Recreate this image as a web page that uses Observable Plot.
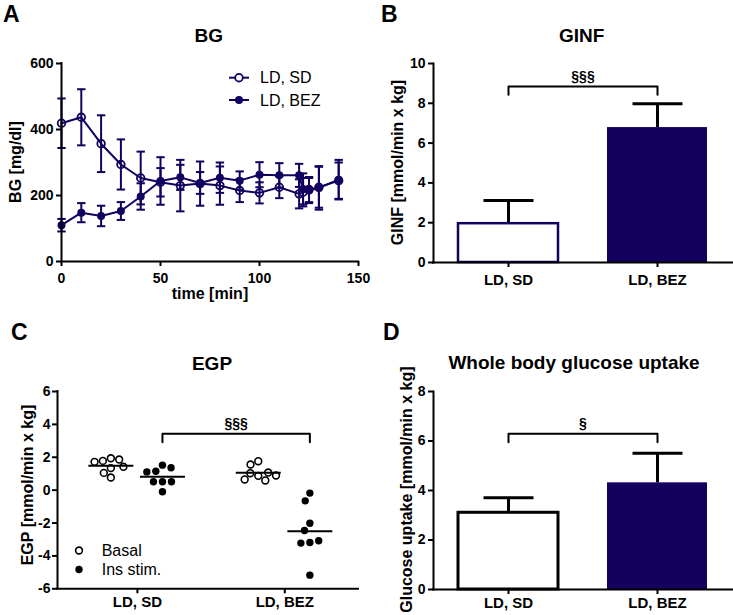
<!DOCTYPE html>
<html><head><meta charset="utf-8">
<script src="https://cdn.jsdelivr.net/npm/d3@7"></script>
<script src="https://cdn.jsdelivr.net/npm/@observablehq/plot@0.6"></script>
<style>
body{margin:0;background:#fff;}
#wrap{position:relative;width:733px;height:615px;overflow:hidden;font-family:"Liberation Sans",Arial,sans-serif;}
.panel{position:absolute;}
#overlay{position:absolute;left:0;top:0;pointer-events:none;}
</style></head><body><div id="wrap"></div>
<script>
// ---------- data ----------
const groups = ["LD, SD", "LD, BEZ"];

// Panel A: blood glucose time course (mean ± error)
const bgTime   = [0,10,20,30,40,50,60,70,80,90,100,110,120,122,125,130,140];
const bgSD     = [419,437,357,294,253,240,230,236,230,215,208,225,205,210,218,225,245];
const bgSDerr  = [75,85,86,76,80,43,78,67,58,35,32,33,44,43,38,62,55];
const bgBEZ    = [110,148,138,153,197,244,255,238,254,245,263,261,261,220,215,223,248];
const bgBEZerr = [19,29,31,27,40,72,38,33,46,28,38,37,35,47,38,66,60];
const bgXTicks = [0,50,100,150];
const bgYTicks = [0,200,400,600];

// Panel B: GINF
const ginfMean = [1.95, 6.78];
const ginfErr  = [1.17, 1.20];
const ginfTicks = [0,2,4,6,8,10];
const sigB = {level: 8.85, drop: 8.43, label: "§§§"};

// Panel C: EGP individual values
const conditions = ["Basal", "Ins stim."];
const egpSDBasal  = [1.94,1.34,1.78,0.77,1.86,1.05,1.72,1.42];
const egpSDIns    = [1.52,0.51,1.15,-0.10,1.36,0.51,1.11,0.51];
const egpBEZBasal = [1.76,0.87,1.03,0.59,0.65,1.07,1.56,0.89];
const egpBEZIns   = [-0.18,-0.65,-2.01,-2.45,-3.18,-3.22,-3.08,-5.17];
const egpTicks = [-6,-4,-2,0,2,4,6];
const sigC = {level: 3.43, drop: 2.92, label: "§§§"};

// Panel D: whole body glucose uptake
const uptakeMean = [3.10, 4.31];
const uptakeErr  = [0.61, 1.20];
const uptakeTicks = [0,2,4,6,8];
const sigD = {level: 6.29, drop: 5.95, label: "§"};

// ---------- styles ----------
const navy = "#13005f";
const FONT = "'Liberation Sans', Arial, sans-serif";
const hline = {draw(ctx, size) { const r = Math.sqrt(size / Math.PI); ctx.moveTo(-r, 0); ctx.lineTo(r, 0); }};
const baseStyle = {fontFamily: FONT, fontSize: "14px", fontWeight: "bold", color: "#000", background: "transparent", overflow: "visible"};
const wrap = document.getElementById("wrap");
function place(el, left, top) {
  const d = document.createElement("div");
  d.className = "panel"; d.style.left = left + "px"; d.style.top = top + "px";
  d.appendChild(el); wrap.appendChild(d);
}

// ---------- Panel A ----------
const bgRows = [];
bgTime.forEach((t, i) => {
  bgRows.push({group: groups[0], time: t, value: bgSD[i], lo: bgSD[i] - bgSDerr[i], hi: bgSD[i] + bgSDerr[i]});
  bgRows.push({group: groups[1], time: t, value: bgBEZ[i], lo: bgBEZ[i] - bgBEZerr[i], hi: bgBEZ[i] + bgBEZerr[i]});
});
const plotA = Plot.plot({
  width: 366, height: 310, marginLeft: 61, marginRight: 8, marginTop: 63, marginBottom: 49,
  style: baseStyle,
  x: {domain: [0,150], label: null},
  y: {domain: [0,600], label: null},
  marks: [
    Plot.axisX({ticks: bgXTicks, tickSize: 5, tickPadding: 7, strokeWidth: 2, label: null}),
    Plot.axisY({ticks: bgYTicks, tickSize: 5, tickPadding: 3, strokeWidth: 2, label: null}),
    Plot.ruleX(bgRows, {x: "time", y1: "lo", y2: "hi", stroke: navy, strokeWidth: 2}),
    Plot.dot(bgRows, {x: "time", y: "lo", symbol: hline, r: 4.2, stroke: navy, strokeWidth: 2, fill: "none"}),
    Plot.dot(bgRows, {x: "time", y: "hi", symbol: hline, r: 4.2, stroke: navy, strokeWidth: 2, fill: "none"}),
    Plot.line(bgRows, {x: "time", y: "value", z: "group", stroke: navy, strokeWidth: 2}),
    Plot.dot(bgRows, {filter: d => d.group === groups[0], x: "time", y: "value", r: 3.8, stroke: navy, strokeWidth: 1.8, fill: "none"}),
    Plot.dot(bgRows, {filter: d => d.group === groups[1], x: "time", y: "value", r: 4, fill: navy}),
    Plot.ruleY([0], {strokeWidth: 2, strokeLinecap: "square"}),
    Plot.ruleX([0], {strokeWidth: 2, strokeLinecap: "square"})
  ]
});
place(plotA, 0, 0);

// ---------- bar panels (B, D) ----------
function bracket(sig) {
  return [
    {x: groups[0], y: sig.drop}, {x: groups[0], y: sig.level},
    {x: groups[1], y: sig.level}, {x: groups[1], y: sig.drop}
  ];
}
function barPanel(means, errs, ticks, sig, height, mTop, mBottom, sdStroke, sdStrokeWidth, xPad) {
  const rows = groups.map((g, i) => ({group: g, value: means[i], top: means[i] + errs[i]}));
  return Plot.plot({
    width: 363, height, marginLeft: 63, marginRight: 1, marginTop: mTop, marginBottom: mBottom,
    style: baseStyle,
    x: {type: "band", domain: groups, paddingInner: 0.33, paddingOuter: 0.165, label: null},
    y: {domain: [ticks[0], ticks[ticks.length - 1]], label: null},
    marks: [
      Plot.ruleX(rows, {x: "group", y1: "value", y2: "top", stroke: "black", strokeWidth: 3}),
      Plot.dot(rows, {x: "group", y: "top", symbol: hline, r: 25, stroke: "black", strokeWidth: 3, fill: "none"}),
      Plot.barY(rows, {filter: d => d.group === groups[0], x: "group", y: "value", fill: "white", stroke: sdStroke, strokeWidth: sdStrokeWidth}),
      Plot.barY(rows, {filter: d => d.group === groups[1], x: "group", y: "value", fill: navy}),
      Plot.line(bracket(sig), {x: "x", y: "y", stroke: "black", strokeWidth: 2}),
      Plot.text([sig], {y: "level", text: "label", frameAnchor: "middle", lineAnchor: "bottom", dy: -5.5, fontSize: 14, fontWeight: "bold"}),
      Plot.axisX({tickSize: 5, tickPadding: xPad, strokeWidth: 2, fontSize: 15, label: null}),
      Plot.axisY({ticks, tickSize: 5, tickPadding: 3, strokeWidth: 2, label: null}),
      Plot.ruleY([ticks[0]], {strokeWidth: 2, strokeLinecap: "square"}),
      Plot.frame({anchor: "left", strokeWidth: 2})
    ]
  });
}
place(barPanel(ginfMean, ginfErr, ginfTicks, sigB, 310, 63, 48, navy, 2.5, 7), 370, 0);
place(barPanel(uptakeMean, uptakeErr, uptakeTicks, sigD, 305, 81, 26, "black", 3, 3), 370, 310);

// ---------- Panel C ----------
const CW = 366, CML = 57, CMR = 8;
const cDomain = [0.458, 2.5];
const condOffset = [-0.18, 0.17];
const egpSets = [[egpSDBasal, egpSDIns], [egpBEZBasal, egpBEZIns]];
const egpRows = [];
egpSets.forEach((pair, ci) => pair.forEach((vals, k) => vals.forEach(v =>
  egpRows.push({cat: groups[ci], cond: conditions[k], pos: ci + 1 + condOffset[k], value: v}))));
const xpixC = v => CML + (v - cDomain[0]) / (cDomain[1] - cDomain[0]) * (CW - CML - CMR);
const midC = (CML + CW - CMR) / 2;
const egpDotMarks = [];
groups.forEach((g, ci) => conditions.forEach((c, k) => {
  const pos = ci + 1 + condOffset[k];
  const data = egpRows.filter(d => d.cat === g && d.cond === c);
  const filled = k === 1;
  egpDotMarks.push(Plot.dot(data, Plot.dodgeX({anchor: "middle", padding: 1.6},
    {y: "value", r: filled ? 3.7 : 3.4, dx: xpixC(pos) - midC,
     fill: filled ? "black" : "none", stroke: "black", strokeWidth: filled ? 0 : 1.6})));
}));
const posIns = groups.map((g, ci) => ci + 1 + condOffset[1]);
const bracketC = [
  {x: posIns[0], y: sigC.drop}, {x: posIns[0], y: sigC.level},
  {x: posIns[1], y: sigC.level}, {x: posIns[1], y: sigC.drop}
];
const plotC = Plot.plot({
  width: CW, height: 305, marginLeft: CML, marginRight: CMR, marginTop: 81, marginBottom: 26.7,
  style: baseStyle,
  x: {domain: cDomain, label: null},
  y: {domain: [-6, 6], label: null},
  marks: [
    ...egpDotMarks,
    Plot.dot(egpRows, Plot.groupX({y: "mean"}, {x: "pos", y: "value", symbol: hline, r: 22.5, stroke: "black", strokeWidth: 2, fill: "none"})),
    Plot.line(bracketC, {x: "x", y: "y", stroke: "black", strokeWidth: 2}),
    Plot.text([sigC], {x: (posIns[0] + posIns[1]) / 2, y: "level", text: "label", lineAnchor: "bottom", dy: -5.5, fontSize: 14, fontWeight: "bold"}),
    Plot.axisX({ticks: [1, 2], tickFormat: d => groups[d - 1], tickSize: 5, tickPadding: 3, strokeWidth: 2, fontSize: 15, label: null}),
    Plot.axisY({ticks: egpTicks, tickFormat: d => String(d), tickSize: 5, tickPadding: 2, strokeWidth: 2, label: null}),
    Plot.ruleY([-6], {strokeWidth: 2, strokeLinecap: "square"}),
    Plot.ruleX([cDomain[0]], {strokeWidth: 2, strokeLinecap: "square"})
  ]
});
place(plotC, 0, 310);

// ---------- overlay text: letters, titles, axis labels, legends ----------
const ov = d3.select(wrap).append("svg").attr("id", "overlay").attr("width", 733).attr("height", 615)
  .style("font-family", FONT);
function label(x, y, s, size, weight, anchor = "middle", rotate = false) {
  const t = ov.append("text").text(s).attr("font-size", size).attr("font-weight", weight)
    .attr("text-anchor", anchor).attr("fill", "#000");
  if (rotate) t.attr("transform", `translate(${x},${y}) rotate(-90)`);
  else t.attr("x", x).attr("y", y);
}
// panel letters
label(3, 21.5, "A", 23, "bold", "start");
label(381, 21.5, "B", 23, "bold", "start");
label(11, 340, "C", 23, "bold", "start");
label(383, 340, "D", 23, "bold", "start");
// titles
label(208.7, 42, "BG", 19, "bold");
label(581.7, 42, "GINF", 19, "bold");
label(212, 370, "EGP", 19, "bold");
label(574, 369, "Whole body glucose uptake", 19, "bold");
// axis titles
label(210, 299, "time [min]", 16, "bold");
label(20.8, 162, "BG [mg/dl]", 16, "bold", "middle", true);
label(403, 162.5, "GINF [mmol/min x kg]", 16, "bold", "middle", true);
label(33, 485, "EGP [mmol/min x kg]", 16, "bold", "middle", true);
label(411.5, 489.6, "Glucose uptake [mmol/min x kg]", 16, "bold", "middle", true);
// legend A
[[77.7, false, groups[0]], [100, true, groups[1]]].forEach(([y, filled, s]) => {
  ov.append("line").attr("x1", 229).attr("x2", 249).attr("y1", y).attr("y2", y).attr("stroke", navy).attr("stroke-width", 2);
  ov.append("circle").attr("cx", 239).attr("cy", y).attr("r", filled ? 4 : 3.8)
    .attr("fill", filled ? navy : "white").attr("stroke", navy).attr("stroke-width", filled ? 0 : 1.8);
  label(260, y + 5.7, s, 16, "normal", "start");
});
// legend C
[[550.5, false, conditions[0]], [569.5, true, conditions[1]]].forEach(([y, filled, s]) => {
  ov.append("circle").attr("cx", 79).attr("cy", y).attr("r", filled ? 3.7 : 3.4)
    .attr("fill", filled ? "black" : "none").attr("stroke", "black").attr("stroke-width", filled ? 0 : 1.6);
  label(101.7, y + 5.7, s, 16, "normal", "start");
});
</script></body></html>
